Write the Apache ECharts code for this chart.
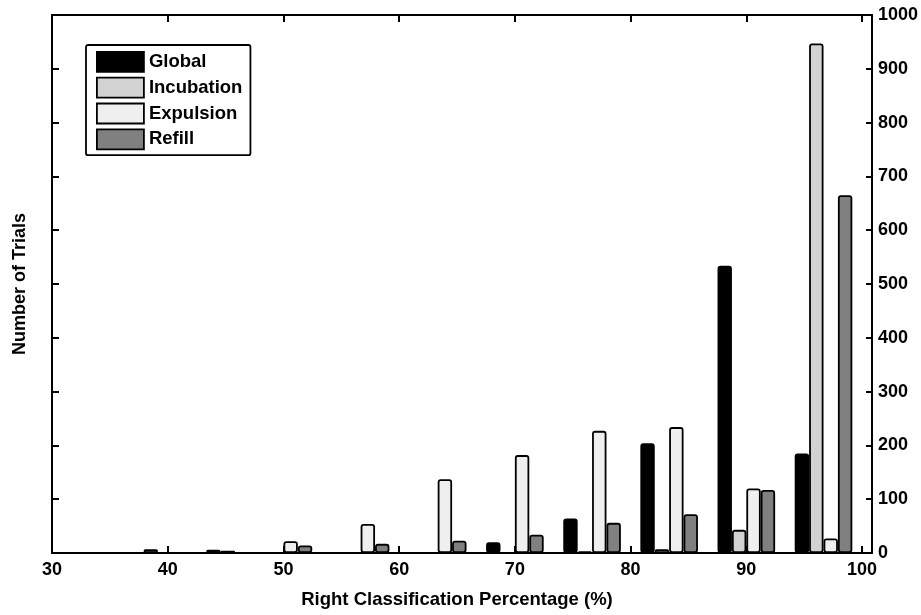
<!DOCTYPE html>
<html>
<head>
<meta charset="utf-8">
<script src="https://cdn.jsdelivr.net/npm/echarts@6/dist/echarts.min.js"></script>
<style>
html,body{margin:0;padding:0;background:#fff;overflow:hidden;}
#chart{width:921px;height:615px;}
</style>
</head>
<body>
<div id="chart"></div>
<script>
// Bin centres (Right Classification Percentage, %)
var binCenters = [36.67, 43.33, 50, 56.67, 63.33, 70, 76.67, 83.33, 90, 96.67];
// Number of trials per bin
var globalVals     = [0, 0, 0, 0, 0, 20, 64, 204, 534, 185];
var incubationVals = [0, 0, 0, 0, 0, 0, 3, 7, 43, 947];
var expulsionVals  = [0, 6, 22, 54, 137, 182, 227, 234, 120, 27];
var refillVals     = [7, 4, 14, 17, 23, 34, 56, 72, 117, 665];
var seriesNames = ['Global', 'Incubation', 'Expulsion', 'Refill'];
var xTicks = [30, 40, 50, 60, 70, 80, 90, 100];
var yTicks = [0, 100, 200, 300, 400, 500, 600, 700, 800, 900, 1000];

var FONT = 'Arial, "Liberation Sans", sans-serif';
var colors = ['#000000', '#d2d2d2', '#efefef', '#808080'];
var valueSets = [globalVals, incubationVals, expulsionVals, refillVals];

function pairs(vals) {
  return binCenters.map(function (x, i) { return [x, vals[i]]; });
}

var chart = echarts.init(document.getElementById('chart'), null, {renderer: 'canvas'});

var axisLineStyle = {color: '#000', width: 2};
var labelStyle = {color: '#000', fontFamily: FONT, fontWeight: 'bold', fontSize: 18};
var tickStyle = {color: '#000', width: 2};

var option = {
  animation: false,
  backgroundColor: '#fff',
  grid: {left: 52, right: 49, top: 15, bottom: 62, containLabel: false, outerBoundsMode: 'none'},
  legend: {
    orient: 'vertical',
    left: 86,
    top: 45,
    data: seriesNames,
    icon: 'rect',
    itemWidth: 47,
    itemHeight: 20,
    itemGap: 4,
    padding: [6, 8, 5, 10],
    borderColor: '#000',
    borderWidth: 1.8,
    borderRadius: 2,
    backgroundColor: '#fff',
    itemStyle: {borderColor: '#000', borderWidth: 1.8},
    textStyle: {color: '#000', fontFamily: FONT, fontWeight: 'bold', fontSize: 18.5, lineHeight: 20}
  },
  xAxis: [
    {
      type: 'value', position: 'bottom', min: 30, max: 100.86, interval: 10,
      name: 'Right Classification Percentage (%)', nameLocation: 'middle', nameGap: 37,
      nameTextStyle: {color: '#000', fontFamily: FONT, fontWeight: 'bold', fontSize: 18.5, padding: [0, 10, 0, 0]},
      axisLine: {show: true, onZero: false, lineStyle: axisLineStyle},
      axisTick: {show: true, inside: true, length: 7, lineStyle: tickStyle},
      axisLabel: Object.assign({margin: 8, showMaxLabel: false,
        formatter: function (v) { var r = Math.round(v); return (xTicks.indexOf(r) >= 0 && Math.abs(v - r) < 1e-6) ? String(r) : ''; }}, labelStyle),
      splitLine: {show: false}
    },
    {
      type: 'value', position: 'top', min: 30, max: 100.86, interval: 10,
      axisLine: {show: true, onZero: false, lineStyle: axisLineStyle},
      axisTick: {show: true, inside: true, length: 7, lineStyle: tickStyle},
      axisLabel: {show: false},
      splitLine: {show: false}
    }
  ],
  yAxis: [
    {
      type: 'value', position: 'left', min: 0, max: 1000, interval: 100,
      name: 'Number of Trials', nameLocation: 'middle', nameGap: 23, nameRotate: 90,
      nameTextStyle: {color: '#000', fontFamily: FONT, fontWeight: 'bold', fontSize: 18},
      axisLine: {show: true, onZero: false, lineStyle: axisLineStyle},
      axisTick: {show: true, inside: true, length: 7, lineStyle: tickStyle},
      axisLabel: {show: false},
      splitLine: {show: false}
    },
    {
      type: 'value', position: 'right', min: 0, max: 1000, interval: 100,
      axisLine: {show: true, onZero: false, lineStyle: axisLineStyle},
      axisTick: {show: true, inside: true, length: 6, lineStyle: tickStyle},
      axisLabel: Object.assign({margin: 6, formatter: function (v) { return String(v); }}, labelStyle),
      splitLine: {show: false}
    }
  ],
  series: seriesNames.map(function (name, k) {
    return {
      name: name,
      type: 'bar',
      xAxisIndex: 0,
      yAxisIndex: 0,
      barWidth: 14.4,
      barGap: '0%',
      itemStyle: {color: colors[k], borderColor: '#000', borderWidth: 1.8, borderRadius: 2},
      emphasis: {disabled: true},
      data: pairs(valueSets[k])
    };
  })
};
chart.setOption(option);
</script>
</body>
</html>
